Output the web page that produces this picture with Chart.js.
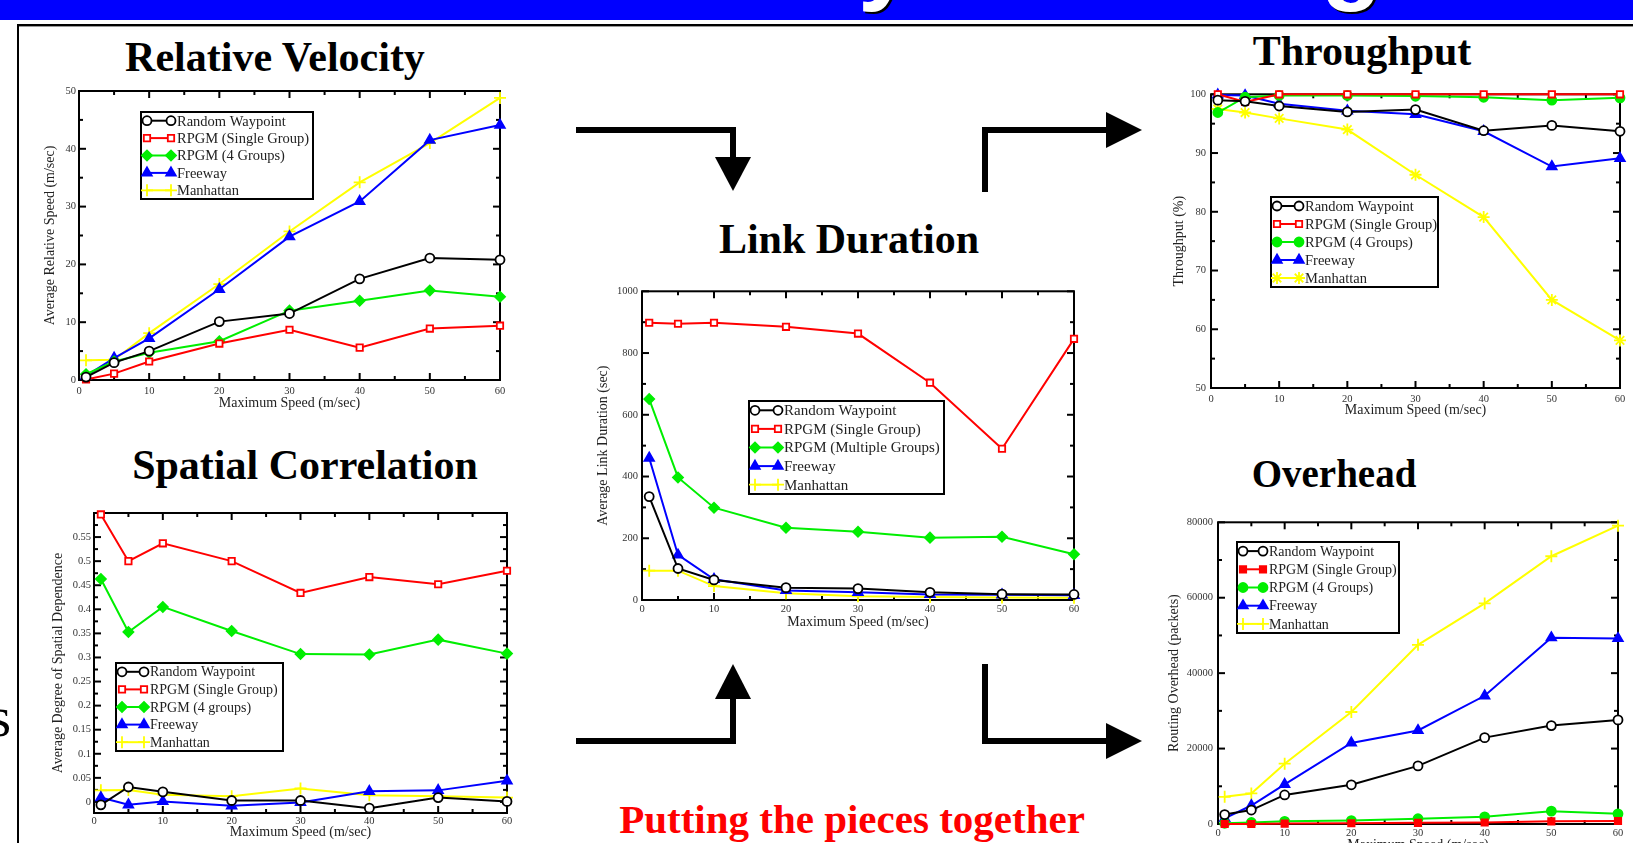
<!DOCTYPE html>
<html><head><meta charset="utf-8">
<script src="https://cdn.jsdelivr.net/npm/chart.js@4.4.0/dist/chart.umd.min.js"></script>
<style>
html,body{margin:0;padding:0;width:1633px;height:843px;overflow:hidden;background:#fff;}
#stage{position:relative;width:1633px;height:843px;overflow:hidden;}
#stage canvas{position:absolute;}
#deco{position:absolute;left:0;top:0;}
</style></head><body>
<div id="stage">
<svg id="deco" width="1633" height="843" xmlns="http://www.w3.org/2000/svg">
  <rect x="0" y="0" width="1633" height="20" fill="#0000ff"/>
  <g font-family="Liberation Sans" font-weight="bold" font-size="100">
    <text x="860" y="-7" fill="#000">y</text>
    <text x="858" y="-9" fill="#fff">y</text>
    <text x="1323" y="-7" fill="#000">g</text>
    <text x="1321" y="-9" fill="#fff">g</text>
  </g>
  <rect x="0" y="20" width="1633" height="4" fill="#fff"/>
  <rect x="17" y="24" width="1616" height="2" fill="#000"/>
  <rect x="19" y="26" width="1614" height="1" fill="#999"/>
  <rect x="17" y="24" width="2" height="819" fill="#000"/>
  <text x="11" y="736" text-anchor="end" font-family="Liberation Serif" font-size="56" fill="#000">s</text>
  <g fill="none" stroke="#000" stroke-width="6" stroke-linejoin="miter">
    <polyline points="576,130 733,130 733,160"/>
    <polyline points="985,192 985,130 1108,130"/>
    <polyline points="576,741 733,741 733,697"/>
    <polyline points="985,664 985,741 1108,741"/>
  </g>
  <g fill="#000">
    <polygon points="715,157 751,157 733,191"/>
    <polygon points="1106,112 1106,148 1142,130"/>
    <polygon points="715,699 751,699 733,664"/>
    <polygon points="1106,723 1106,759 1142,741"/>
  </g>
  <g font-family="Liberation Serif" font-weight="bold" font-size="42" text-anchor="middle" fill="#000">
    <text x="275" y="71">Relative Velocity</text>
    <text x="305" y="479">Spatial Correlation</text>
    <text x="849" y="253">Link Duration</text>
    <text x="1362" y="65">Throughput</text>
    <text x="1334" y="487" font-size="39">Overhead</text>
  </g>
  <text x="852" y="833" font-family="Liberation Serif" font-weight="bold" font-size="41" text-anchor="middle" fill="#ff0000">Putting the pieces together</text>
</svg>
</div>
<script>
// ---------- DATA ----------
const speeds = [1, 5, 10, 20, 30, 40, 50, 60];
const speedTicks = [0, 10, 20, 30, 40, 50, 60];

// Relative Velocity
const rvRandomWaypoint = [0.5, 3.0, 5.0, 10.1, 11.5, 17.5, 21.1, 20.8];
const rvRpgmSingle     = [0.1, 1.1, 3.2, 6.3, 8.7, 5.6, 8.9, 9.4];
const rvRpgmGroups     = [1.0, 3.2, 4.7, 6.7, 12.0, 13.7, 15.5, 14.4];
const rvFreeway        = [0.7, 3.8, 7.2, 15.7, 24.8, 30.9, 41.5, 44.1];
const rvManhattan      = [3.4, 3.5, 8.1, 16.6, 25.7, 34.2, 41.0, 48.8];
const rvTicks = [0, 10, 20, 30, 40, 50];

// Spatial Correlation
const scRandomWaypoint = [-0.006, 0.031, 0.021, 0.003, 0.003, -0.013, 0.009, 0.001];
const scRpgmSingle     = [0.597, 0.500, 0.537, 0.500, 0.434, 0.467, 0.452, 0.480];
const scRpgmGroups     = [0.463, 0.353, 0.405, 0.355, 0.307, 0.306, 0.337, 0.308];
const scFreeway        = [0.009, -0.006, 0.001, -0.008, -0.001, 0.022, 0.024, 0.044];
const scManhattan      = [0.024, 0.025, 0.015, 0.012, 0.028, 0.014, 0.012, 0.009];
const scTicks = [0, 0.05, 0.1, 0.15, 0.2, 0.25, 0.3, 0.35, 0.4, 0.45, 0.5, 0.55];

// Link Duration
const ldRandomWaypoint = [335, 102, 65, 40, 37, 25, 19, 18];
const ldRpgmSingle     = [898, 895, 898, 885, 863, 704, 490, 846];
const ldRpgmGroups     = [651, 397, 299, 234, 221, 202, 205, 148];
const ldFreeway        = [460, 146, 67, 31, 25, 18, 17, 15];
const ldManhattan      = [95, 95, 45, 22, 12, 10, 8, 7];
const ldTicks = [0, 200, 400, 600, 800, 1000];

// Throughput
const tpRandomWaypoint = [99.0, 98.8, 98.0, 97.0, 97.4, 93.8, 94.7, 93.7];
const tpRpgmSingle     = [100, 98.7, 100, 100, 100, 100, 100, 100];
const tpRpgmGroups     = [96.9, 99.5, 99.8, 99.8, 99.7, 99.5, 99.0, 99.4];
const tpFreeway        = [99.9, 99.8, 98.4, 97.2, 96.6, 93.7, 87.7, 89.1];
const tpManhattan      = [97.5, 96.9, 95.9, 94.0, 86.3, 79.1, 65.0, 58.1];
const tpTicks = [50, 60, 70, 80, 90, 100];

// Overhead
const ohRandomWaypoint = [2500, 3700, 7700, 10400, 15400, 22900, 26100, 27600];
const ohRpgmSingle     = [0, 0, 100, 200, 300, 400, 700, 800];
const ohRpgmGroups     = [200, 400, 700, 900, 1400, 1900, 3400, 2700];
const ohFreeway        = [1500, 4900, 10500, 21500, 24800, 34000, 49400, 49200];
const ohManhattan      = [7200, 8100, 16000, 29700, 47500, 58500, 71000, 79100];
const ohTicks = [0, 20000, 40000, 60000, 80000];

const labels4 = ['Random Waypoint', 'RPGM (Single Group)', 'RPGM (4 Groups)', 'Freeway', 'Manhattan'];
const labels4l = ['Random Waypoint', 'RPGM (Single Group)', 'RPGM (4 groups)', 'Freeway', 'Manhattan'];
const labelsM = ['Random Waypoint', 'RPGM (Single Group)', 'RPGM (Multiple Groups)', 'Freeway', 'Manhattan'];

// ---------- STYLES ----------
const C = {black:'#000000', red:'#ff0000', green:'#00ee00', blue:'#0000ff', yellow:'#ffff00'};
const stylesA = [
  {color:C.black, fill:'#ffffff', style:'circle', r:4.5},
  {color:C.red, fill:'#ffffff', style:'rect', r:4.5},
  {color:C.green, fill:C.green, style:'rectRot', r:5},
  {color:C.blue, fill:C.blue, style:'triangle', r:5.5},
  {color:C.yellow, fill:C.yellow, style:'cross', r:6}
];
const stylesD = [
  {color:C.black, fill:'#ffffff', style:'circle', r:4.5},
  {color:C.red, fill:'#ffffff', style:'rect', r:4.5},
  {color:C.green, fill:C.green, style:'circle', r:4.5},
  {color:C.blue, fill:C.blue, style:'triangle', r:5.5},
  {color:C.yellow, fill:C.yellow, style:'star', r:6}
];
const stylesE = [
  {color:C.black, fill:'#ffffff', style:'circle', r:4.5},
  {color:C.red, fill:C.red, style:'rect', r:4.5},
  {color:C.green, fill:C.green, style:'circle', r:4.5},
  {color:C.blue, fill:C.blue, style:'triangle', r:5.5},
  {color:C.yellow, fill:C.yellow, style:'cross', r:6}
];

// ---------- PLUGINS ----------
const frameTicks = {
  id: 'frameTicks',
  beforeDatasetsDraw(chart, args, o) {
    const {ctx, chartArea: a, scales: {x, y}} = chart;
    ctx.save();
    ctx.strokeStyle = '#000'; ctx.lineWidth = 2;
    ctx.strokeRect(a.left, a.top, a.right - a.left, a.bottom - a.top);
    const seg = (x1, y1, x2, y2) => { ctx.beginPath(); ctx.moveTo(x1, y1); ctx.lineTo(x2, y2); ctx.stroke(); };
    const steps = (min, max, minor) => { const out = []; for (let k = Math.ceil(min / minor - 1e-9); k * minor <= max + 1e-9; k++) out.push(k * minor); return out; };
    const isMajor = (v, m) => Math.abs(v / m - Math.round(v / m)) < 1e-6;
    steps(x.min, x.max, o.xMinor).forEach(v => {
      const len = isMajor(v, o.xMajor) ? 7 : 4; const px = x.getPixelForValue(v);
      seg(px, a.bottom, px, a.bottom - len); seg(px, a.top, px, a.top + len);
    });
    steps(y.min, y.max, o.yMinor).forEach(v => {
      const len = isMajor(v, o.yMajor) ? 7 : 4; const py = y.getPixelForValue(v);
      seg(a.left, py, a.left + len, py); seg(a.right, py, a.right - len, py);
    });
    ctx.restore();
  }
};

const legendBox = {
  id: 'legendBox',
  afterDatasetsDraw(chart, args, o) {
    const ctx = chart.ctx;
    ctx.save();
    ctx.fillStyle = '#fff';
    ctx.fillRect(o.x, o.y, o.w, o.h);
    ctx.strokeStyle = '#000'; ctx.lineWidth = 2;
    ctx.strokeRect(o.x, o.y, o.w, o.h);
    const n = chart.data.datasets.length;
    const pitch = o.h / n;
    chart.data.datasets.forEach((ds, i) => {
      const cy = o.y + pitch * (i + 0.5);
      const x1 = o.x + 6, x2 = o.textX - 6;
      ctx.strokeStyle = ds.borderColor; ctx.lineWidth = 2;
      ctx.beginPath(); ctx.moveTo(x1, cy); ctx.lineTo(x2, cy); ctx.stroke();
      [x1, x2].forEach(px => {
        ctx.fillStyle = ds.pointBackgroundColor; ctx.strokeStyle = ds.borderColor; ctx.lineWidth = 1.8;
        Chart.helpers.drawPoint(ctx, {pointStyle: ds.pointStyle, rotation: 0, radius: ds.pointRadius, borderWidth: 1.8}, px, cy);
      });
      ctx.fillStyle = '#222';
      ctx.font = o.font + 'px "Liberation Serif"';
      ctx.textBaseline = 'middle'; ctx.textAlign = 'left';
      ctx.fillText(ds.label, o.textX, cy + 1);
    });
    ctx.restore();
  }
};

Chart.defaults.font.family = '"Liberation Serif", serif';

const stage = document.getElementById('stage');

function makeChart(spec) {
  const W = spec.cR - spec.cL, H = spec.cB - spec.cT;
  const c = document.createElement('canvas');
  c.width = W; c.height = H;
  c.style.left = spec.cL + 'px'; c.style.top = spec.cT + 'px';
  c.style.width = W + 'px'; c.style.height = H + 'px';
  stage.appendChild(c);
  const datasets = spec.values.map((vals, i) => {
    const st = spec.styles[i];
    return {
      label: spec.labels[i],
      data: speeds.map((sx, j) => ({x: sx, y: vals[j]})),
      borderColor: st.color, backgroundColor: st.fill,
      pointBorderColor: st.color, pointBackgroundColor: st.fill,
      pointStyle: st.style, pointRadius: st.r, pointBorderWidth: 1.8,
      borderWidth: 2, tension: 0, clip: false
    };
  });
  new Chart(c.getContext('2d'), {
    type: 'line',
    data: {datasets},
    options: {
      responsive: false, animation: false, devicePixelRatio: 1,
      layout: {padding: {top: spec.T - spec.cT, right: spec.cR - spec.R, left: 0, bottom: 0}},
      plugins: {
        legend: {display: false}, tooltip: {enabled: false},
        frameTicks: {xMajor: 10, xMinor: 5, yMajor: spec.yMajor, yMinor: spec.yMinor},
        legendBox: {x: spec.legend.x - spec.cL, y: spec.legend.y - spec.cT, w: spec.legend.w, h: spec.legend.h, textX: spec.legend.textX - spec.cL, font: spec.legend.font}
      },
      scales: {
        x: {
          type: 'linear', min: 0, max: 60,
          afterBuildTicks: s => { s.ticks = speedTicks.map(v => ({value: v})); },
          afterFit: s => { s.height = spec.cB - spec.B; },
          grid: {display: false, drawTicks: false}, border: {display: false},
          ticks: {padding: spec.xPad, font: {size: 10.5}, color: '#333', maxRotation: 0, autoSkip: false},
          title: {display: true, text: 'Maximum Speed (m/sec)', font: {size: 14}, color: '#222', padding: 0}
        },
        y: {
          type: 'linear', min: spec.yMin, max: spec.yMax,
          afterBuildTicks: s => { s.ticks = spec.yTicks.map(v => ({value: v})); },
          afterFit: s => { s.width = spec.L - spec.cL; },
          grid: {display: false, drawTicks: false}, border: {display: false},
          ticks: {padding: spec.yPad, font: {size: 10.5}, color: '#333', autoSkip: false,
                  callback: v => String(Math.round(v * 1000) / 1000)},
          title: {display: true, text: spec.yTitle, font: {size: 14}, color: '#222', padding: 0}
        }
      }
    },
    plugins: [frameTicks, legendBox]
  });
}

makeChart({cL:42, cT:81, cR:514, cB:412, L:79, T:91, R:500, B:380, yPad:3, xPad:5,
  yMin:0, yMax:50, yTicks:rvTicks, yMajor:10, yMinor:5, yTitle:'Average Relative Speed (m/sec)',
  values:[rvRandomWaypoint, rvRpgmSingle, rvRpgmGroups, rvFreeway, rvManhattan], labels:labels4, styles:stylesA,
  legend:{x:141, y:112, w:172, h:87, textX:177, font:14.5}});

makeChart({cL:50, cT:503, cR:521, cB:841, L:94, T:513, R:507, B:813, yPad:3, xPad:2,
  yMin:-0.023, yMax:0.6, yTicks:scTicks, yMajor:0.05, yMinor:0.025, yTitle:'Average Degree of Spatial Dependence',
  values:[scRandomWaypoint, scRpgmSingle, scRpgmGroups, scFreeway, scManhattan], labels:labels4l, styles:stylesA,
  legend:{x:116, y:663, w:167, h:88, textX:150, font:14}});

makeChart({cL:595, cT:281, cR:1088, cB:631, L:642, T:291, R:1074, B:600, yPad:4, xPad:3,
  yMin:0, yMax:1000, yTicks:ldTicks, yMajor:200, yMinor:100, yTitle:'Average Link Duration (sec)',
  values:[ldRandomWaypoint, ldRpgmSingle, ldRpgmGroups, ldFreeway, ldManhattan], labels:labelsM, styles:stylesA,
  legend:{x:749, y:401, w:195, h:93, textX:784, font:15}});

makeChart({cL:1171, cT:83, cR:1634, cB:419, L:1211, T:93, R:1620, B:388, yPad:5, xPad:5,
  yMin:50, yMax:100, yTicks:tpTicks, yMajor:10, yMinor:5, yTitle:'Throughput (%)',
  values:[tpRandomWaypoint, tpRpgmSingle, tpRpgmGroups, tpFreeway, tpManhattan], labels:labels4, styles:stylesD,
  legend:{x:1271, y:197, w:167, h:90, textX:1305, font:14.5}});

makeChart({cL:1166, cT:511, cR:1632, cB:854, L:1218, T:521, R:1618, B:824, yPad:5, xPad:3,
  yMin:0, yMax:80000, yTicks:ohTicks, yMajor:20000, yMinor:10000, yTitle:'Routing Overhead (packets)',
  values:[ohRandomWaypoint, ohRpgmSingle, ohRpgmGroups, ohFreeway, ohManhattan], labels:labels4, styles:stylesE,
  legend:{x:1237, y:542, w:162, h:91, textX:1269, font:14}});
</script>
</body></html>
